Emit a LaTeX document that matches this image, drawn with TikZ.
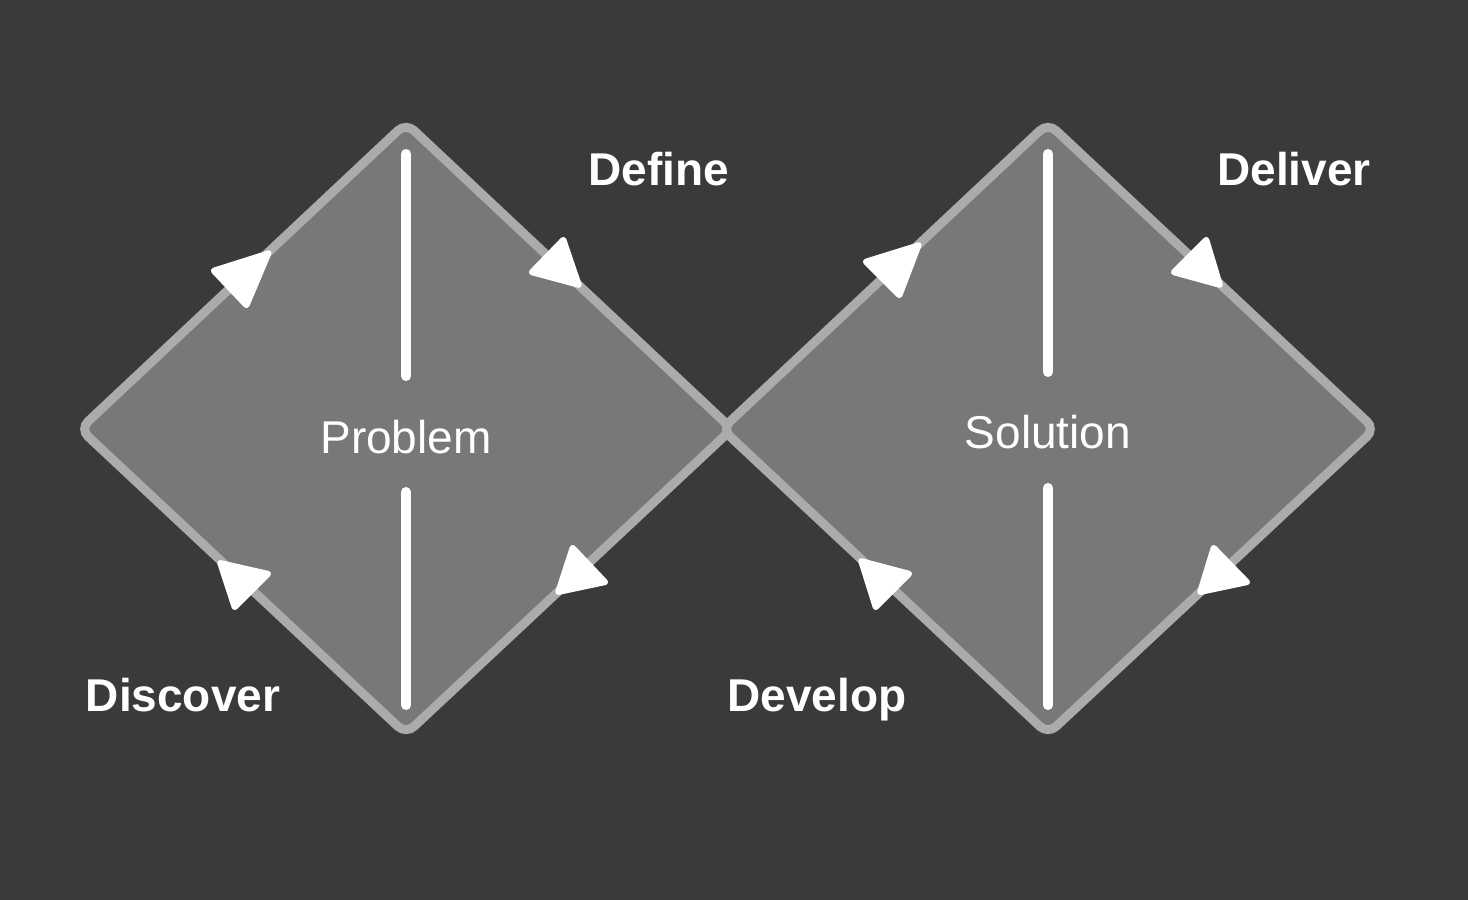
\documentclass[tikz,border=0pt]{standalone}
\usepackage{fontspec}
\setmainfont{Liberation Sans}
\definecolor{bgc}{HTML}{3A3A3A}
\definecolor{fillc}{HTML}{787878}
\definecolor{edgec}{HTML}{ABABAB}
\begin{document}
\begin{tikzpicture}[x=1pt,y=-1pt,
  diamondshape/.style={fill=fillc,draw=edgec,line width=9pt,rounded corners=11pt},
  axisline/.style={draw=white,line width=10pt,line cap=round},
  arrowtri/.style={fill=white,draw=white,line width=3pt,line join=round,rounded corners=3pt},
  phase/.style={text=white,font=\fontsize{46}{50}\selectfont\bfseries,inner sep=0pt,anchor=base},
  core/.style={text=white,font=\fontsize{46}{50}\selectfont,inner sep=0pt,anchor=base}]
\fill[bgc] (0,0) rectangle (1468,900);
\useasboundingbox (0,0) rectangle (1468,900);
% diamonds
\draw[diamondshape] (406,123) -- (732,429) -- (406,734) -- (80,429) -- cycle;
\draw[diamondshape] (1048,123) -- (1375,429) -- (1048,734) -- (722,429) -- cycle;
% vertical lines
\coordinate (l1a) at (406,154); \coordinate (l1b) at (406,376);
\coordinate (l2a) at (406,492); \coordinate (l2b) at (406,705);
\coordinate (r1a) at (1048,154); \coordinate (r1b) at (1048,372);
\coordinate (r2a) at (1048,488); \coordinate (r2b) at (1048,705);
\draw[axisline] (l1a) -- (l1b);
\draw[axisline] (l2a) -- (l2b);
\draw[axisline] (r1a) -- (r1b);
\draw[axisline] (r2a) -- (r2b);
% arrowheads
\filldraw[arrowtri] (211,270) -- (271,251) -- (247,308) -- cycle;
\filldraw[arrowtri] (529,273) -- (564,237) -- (581,287) -- cycle;
\filldraw[arrowtri] (218,561) -- (271,573) -- (234,610) -- cycle;
\filldraw[arrowtri] (572,545) -- (608,583) -- (556,594) -- cycle;
\filldraw[arrowtri] (863,261) -- (921,243) -- (900,298) -- cycle;
\filldraw[arrowtri] (1171,273) -- (1207,237) -- (1222,287) -- cycle;
\filldraw[arrowtri] (859,559) -- (912,573) -- (875,610) -- cycle;
\filldraw[arrowtri] (1213,545) -- (1250,583) -- (1198,594) -- cycle;
% texts
\node[core] (problem) at (406,453) {Problem};
\node[core] (solution) at (1048,448) {Solution};
\node[phase] (define) at (659,185) {Define};
\node[phase] (deliver) at (1294,185) {Deliver};
\node[phase] (discover) at (183,711) {Discover};
\node[phase] (develop) at (817,711) {Develop};
\end{tikzpicture}
\end{document}
